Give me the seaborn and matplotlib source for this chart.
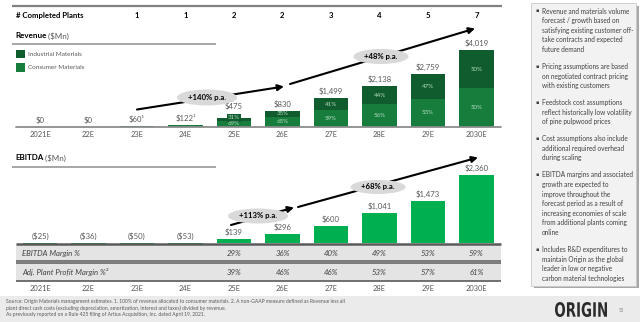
import matplotlib
matplotlib.use("Agg")
import matplotlib.pyplot as plt
import numpy as np
import pandas as pd
import seaborn as sns
from matplotlib.lines import Line2D
from matplotlib.patches import Rectangle, Ellipse, FancyArrowPatch, PathPatch
from matplotlib.textpath import TextPath
from matplotlib.font_manager import FontProperties
from matplotlib.transforms import Affine2D, blended_transform_factory

sns.set_theme(style="white")
plt.rcParams["font.family"] = ["Lato", "DejaVu Sans"]

# ---- data -------------------------------------------------------------
years = ["2021E", "22E", "23E", "24E", "25E", "26E", "27E", "28E", "29E", "2030E"]
plants = ["", "", "1", "1", "2", "2", "3", "4", "5", "7"]
revenue = [0, 0, 60, 122, 475, 830, 1499, 2138, 2759, 4019]
revenue_notes = ["", "", "¹", "¹", "", "", "", "", "", ""]
industrial_pct = [0, 0, 0, 0, 31, 35, 41, 44, 47, 50]
consumer_pct = [0, 0, 100, 100, 69, 65, 59, 56, 53, 50]
ebitda = [-25, -36, -50, -53, 139, 296, 600, 1041, 1473, 2360]
ebitda_margin = ["", "", "", "", "29%", "36%", "40%", "49%", "53%", "59%"]
plant_margin = ["", "", "", "", "39%", "46%", "46%", "53%", "57%", "61%"]
revenue_cagr = ["+140% p.a.", "+48% p.a."]
ebitda_cagr = ["+113% p.a.", "+68% p.a."]
bullets = [
    ["Revenue and materials volume", "forecast / growth based on",
     "satisfying existing customer off-", "take contracts and expected", "future demand"],
    ["Pricing assumptions are based", "on negotiated contract pricing", "with existing customers"],
    ["Feedstock cost assumptions", "reflect historically low volatility", "of pine pulpwood prices"],
    ["Cost assumptions also include", "additional required overhead", "during scaling"],
    ["EBITDA margins and associated", "growth are expected to", "improve throughout the",
     "forecast period as a result of", "increasing economies of scale",
     "from additional plants coming", "online"],
    ["Includes R&D expenditures to", "maintain Origin as the global",
     "leader in low or negative", "carbon material technologies"],
]
footnotes = [
    "Source: Origin Materials management estimates. 1. 100% of revenue allocated to consumer materials. "
    "2. A non-GAAP measure defined as Revenue less all",
    "plant direct cash costs (excluding depreciation, amortization, interest and taxes) divided by revenue.",
    "As previously reported on a Rule 425 filing of Artius Acquisition, Inc. dated April 19, 2021.",
]

# ---- style ------------------------------------------------------------
IND = "#105c2e"
CON = "#167d3d"
EBC = "#00b050"
PCT = "#b5dcc0"
TXT = "#595959"
DARK = "#404040"

W, H = 640, 322
fig = plt.figure(figsize=(W / 100, H / 100), dpi=100)
fig.patch.set_facecolor("white")
PIX = Affine2D().scale(1 / W, -1 / H).translate(0, 1) + fig.transFigure


def hline(x0, x1, y, color, lw, z=2):
    fig.add_artist(Line2D([x0, x1], [y, y], transform=PIX, color=color, lw=lw,
                          zorder=z, solid_capstyle="butt"))


def rect(x, y, w, h, fc, ec="none", lw=0, z=1):
    fig.add_artist(Rectangle((x, y), w, h, transform=PIX, fc=fc, ec=ec, lw=lw, zorder=z))


def label(x, y, s, transform=None, **kw):
    kw.setdefault("va", "center")
    kw.setdefault("ha", "left")
    return fig.text(x, y, s, transform=transform or PIX, **kw)


X0, SPAN = 15.75, 485.0

# ---- revenue panel ----------------------------------------------------
REV_SCALE = 0.01916  # px per $Mn
ax_r = fig.add_axes([X0 / W, 1 - 127 / H, SPAN / W, 82 / H])
rev_df = pd.DataFrame({
    "year": years,
    "total": revenue,
    "consumer": np.array(revenue) * np.array(consumer_pct) / 100.0,
})
sns.barplot(data=rev_df, x="year", y="total", color=IND, saturation=1, width=0.72,
            linewidth=0, errorbar=None, ax=ax_r)
sns.barplot(data=rev_df, x="year", y="consumer", color=CON, saturation=1, width=0.72,
            linewidth=0, errorbar=None, ax=ax_r)
ax_r.set_ylim(0, 82 / REV_SCALE)

for i, (tot, ip, cp) in enumerate(zip(revenue, industrial_pct, consumer_pct)):
    if ip == 0:
        continue
    ind = tot * ip / 100.0
    con = tot - ind
    if tot < 600:
        ax_r.text(i, tot, f"{ip}%", ha="center", va="center", fontsize=4.4, color=PCT,
                  bbox=dict(boxstyle="square,pad=0.2", fc=IND, ec="none"))
    else:
        ax_r.text(i, con + ind / 2, f"{ip}%", ha="center", va="center", fontsize=4.4, color=PCT)
    ax_r.text(i, con / 2, f"{cp}%", ha="center", va="center", fontsize=4.4, color=PCT)

for i, (v, note) in enumerate(zip(revenue, revenue_notes)):
    lift = 5.5 if (industrial_pct[i] > 0 and v < 600) else 2.2
    ax_r.annotate(f"\\${v:,}{note}", (i, v), xytext=(0, lift), textcoords="offset points",
                  ha="center", va="bottom", fontsize=5.6, color=TXT, annotation_clip=False)

ax_r.axhline(0, color="#8c8c8c", lw=1.3, clip_on=False, zorder=3)

# ---- EBITDA panel -----------------------------------------------------
EB_SCALE = 0.0288
ax_e = fig.add_axes([X0 / W, 1 - 263 / H, SPAN / W, 103 / H])
eb_df = pd.DataFrame({"year": years, "ebitda": ebitda})
sns.barplot(data=eb_df, x="year", y="ebitda", color=EBC, saturation=1, width=0.72,
            linewidth=0, errorbar=None, ax=ax_e)
ax_e.set_ylim(-20 / EB_SCALE, 83 / EB_SCALE)
for i, v in enumerate(ebitda):
    s = f"\\${v:,}" if v >= 0 else f"(\\${-v:,})"
    ax_e.annotate(s, (i, max(v, 0)), xytext=(0, 2.2), textcoords="offset points",
                  ha="center", va="bottom", fontsize=5.6, color=TXT)

for ax in (ax_r, ax_e):
    ax.set_facecolor("none")
    sns.despine(ax=ax, left=True, bottom=True)
    ax.set_xlim(-0.5, 9.5)
    ax.set_yticks([])
    ax.set_xlabel("")
    ax.set_ylabel("")
ax_r.tick_params(axis="x", length=0, pad=3.2, labelsize=5.4, labelcolor=TXT)
ax_e.set_xticks([])

xr = blended_transform_factory(ax_r.transData, PIX)
xe = blended_transform_factory(ax_e.transData, PIX)

# ---- headers ----------------------------------------------------------
hline(12, 502, 6, "#808080", 1.6)
label(16, 15.5, "# Completed Plants", fontsize=5.6, fontweight="bold", color="black")
for i, p in enumerate(plants):
    if p:
        label(i, 15.5, p, transform=xr, ha="center", fontsize=5.6, fontweight="bold", color="black")

t = label(15, 36, "Revenue", fontsize=5.8, fontweight="bold", color="black")
fig.add_artist(plt.Annotation(" (\\$Mn)", (1, 0.5), xycoords=t, va="center",
                              fontsize=5.8, color=TXT))
hline(12, 216, 44, "#a6a6a6", 1.4)

rect(15.5, 49.5, 9, 8.5, IND)
rect(15.5, 63, 9, 8.5, CON)
label(28, 54, "Industrial Materials", fontsize=4.6, color=TXT)
label(28, 67.5, "Consumer Materials", fontsize=4.6, color=TXT)

t = label(15, 158, "EBITDA", fontsize=5.8, fontweight="bold", color="black")
fig.add_artist(plt.Annotation(" (\\$Mn)", (1, 0.5), xycoords=t, va="center",
                              fontsize=5.8, color=TXT))
hline(12, 216, 167, "#a6a6a6", 1.4)

# ---- growth arrows ----------------------------------------------------
def growth_arrow(p0, p1):
    fig.add_artist(FancyArrowPatch(p0, p1, transform=PIX, arrowstyle="-|>", mutation_scale=9,
                                   lw=1.5, color="black", shrinkA=0, shrinkB=0, zorder=4))


def growth_badge(cx, cy, w, h, s):
    fig.add_artist(Ellipse((cx, cy), w, h, transform=PIX, fc="#d9d9d9", ec="none", zorder=5))
    label(cx, cy, s, ha="center", fontsize=5.6, fontweight="bold", color="black", zorder=6)


growth_arrow((137, 109.5), (284, 86.5))
growth_arrow((290, 84), (475, 28.5))
growth_badge(207, 97.5, 60, 16, revenue_cagr[0])
growth_badge(381, 56.5, 55, 15, revenue_cagr[1])

growth_arrow((231, 225), (294, 207.5))
growth_arrow((298, 207), (478, 157.5))
growth_badge(258, 216, 60, 15, ebitda_cagr[0])
growth_badge(378, 187, 55, 14, ebitda_cagr[1])

# ---- margin table -----------------------------------------------------
TBL = "#e4e4e4"
rect(X0, 244, SPAN, 17, TBL, z=1.5)
rect(X0, 263.5, SPAN, 17.5, TBL, z=1.5)
hline(X0, X0 + SPAN, 243.8, "#5a5a5a", 1.8)
hline(X0, X0 + SPAN, 261.0, "#5a5a5a", 1.1)
hline(X0, X0 + SPAN, 263.5, "#5a5a5a", 1.1)
hline(X0, X0 + SPAN, 281.3, "#5a5a5a", 1.2)
label(22, 253.5, "EBITDA Margin %", fontsize=5.6, style="italic", color=DARK)
label(22, 272.5, "Adj. Plant Profit Margin %²", fontsize=5.6, style="italic", color=DARK)
for i, (a, b) in enumerate(zip(ebitda_margin, plant_margin)):
    if a:
        label(i, 253.5, a, transform=xe, ha="center", fontsize=5.6, style="italic", color=DARK)
    if b:
        label(i, 272.5, b, transform=xe, ha="center", fontsize=5.6, style="italic", color=DARK)
for i, y in enumerate(years):
    label(i, 289, y, transform=xe, ha="center", fontsize=5.4, color=TXT)

# ---- commentary box ---------------------------------------------------
rect(533.5, 5.5, 105, 283, "#a8a8a8", z=1)
rect(531, 3, 105, 283, "#f2f2f2", ec="#c9c9c9", lw=0.6, z=1.2)
y = 11
for para in bullets:
    label(536, y, "▪", fontsize=3.6, color=DARK, family="DejaVu Sans")
    for line in para:
        label(542, y, line, fontsize=4.7, color=DARK)
        y += 9.6
    y += 7.4

# ---- footer -----------------------------------------------------------
rect(0, 296, W, 26, "#ebebeb", z=0.5)
for k, line in enumerate(footnotes):
    label(6, 302 + 6.5 * k, line.replace("$", "\\$"), fontsize=3.6, color=TXT)

tp = TextPath((0, 0), "ORIGIN", size=10, prop=FontProperties(family="DejaVu Sans", weight="bold"))
ext = tp.get_extents()
logo_tr = (Affine2D().translate(-ext.x0, -ext.y0)
           .scale(52 / ext.width, -15 / ext.height).translate(555, 317) + PIX)
fig.add_artist(PathPatch(tp, transform=logo_tr, fc="#2b2b2b", ec="none", zorder=3))
label(619, 310.5, "53", fontsize=3.3, color="#8c8c8c")

fig.savefig("out.png", dpi=100)
